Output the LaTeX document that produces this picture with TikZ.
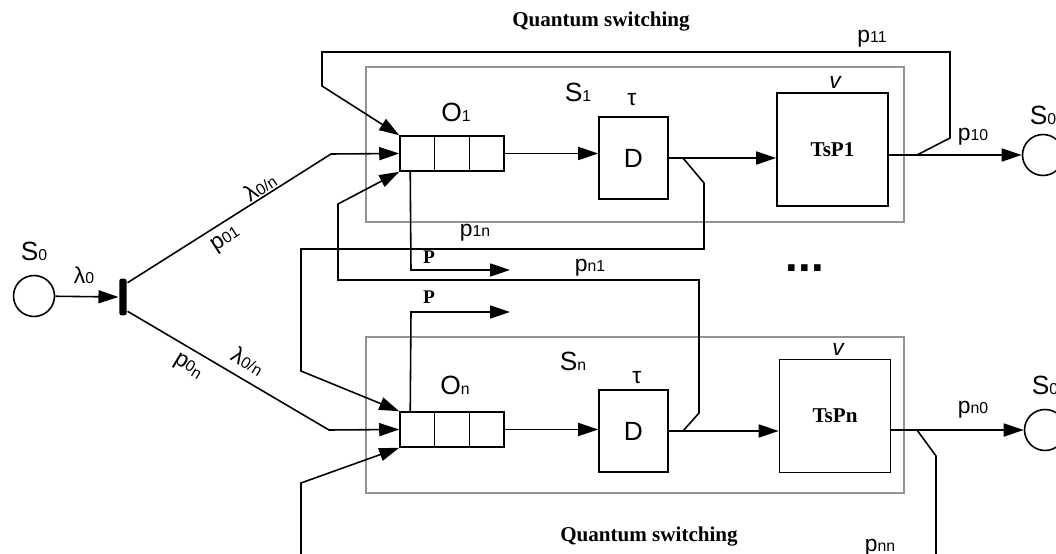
\documentclass[tikz,border=0pt]{standalone}
\usepackage{fontspec}
\setmainfont{Liberation Sans}
\newfontfamily\timesbf{Liberation Serif}
\usetikzlibrary{arrows.meta,calc}

\newcommand{\lo}[1]{{\fontsize{9}{9}\selectfont #1}}

\begin{document}
\begin{tikzpicture}[x=0.02cm,y=-0.02cm,line width=0.9pt,
    arr/.style={-{Triangle[length=4mm,width=2.6mm]}},
    place/.style={draw,circle,minimum size=0.82cm,inner sep=0pt},
    trans/.style={fill,rounded corners=1.5pt,minimum width=0.15cm,minimum height=0.74cm,inner sep=0pt},
    queue/.style={draw,minimum width=2.08cm,minimum height=0.7cm,inner sep=0pt},
    delay/.style={draw,minimum width=1.38cm,minimum height=1.64cm,font=\fontsize{15}{15}\selectfont},
    proc/.style={draw,minimum width=2.22cm,minimum height=2.26cm,font=\timesbf\bfseries\fontsize{12}{12}\selectfont},
    frame/.style={draw=gray!85,line width=0.9pt},
    lbl/.style={font=\fontsize{15}{15}\selectfont,inner sep=0pt},
    plbl/.style={font=\fontsize{13}{13}\selectfont,inner sep=0pt},
    tlbl/.style={font=\timesbf\bfseries\fontsize{12}{12}\selectfont,inner sep=0pt}]

\useasboundingbox (0,0) rectangle (1056,554);

% Switching frames
\draw[frame] (366,67) rectangle (904,222);
\draw[frame] (366,337) rectangle (904,493);

% Source and branching transition
\node[place] (s0) at (34,296) {};
\node[trans] (t0) at (123,297) {};
\draw[arr] (s0) -- (t0.west);

% Queues, delays and processors
\node[queue] (q1) at (452,153.5) {};
\node[queue] (qn) at (452,429.5) {};
\foreach \q in {q1,qn} {
    \foreach \f in {1,2} {
        \draw ($(\q.north west)!\f/3!(\q.north east)$) -- ($(\q.south west)!\f/3!(\q.south east)$);
    }
}
\node[delay] (d1) at (633.5,158) {D};
\node[delay] (dn) at (633.5,431) {D};
\node[proc] (tsp1) at (832.5,149.5) {TsP1};
\node[proc] (tspn) at (835,416) {TsPn};
\node[place] (s01) at (1043,155) {};
\node[place] (s0n) at (1045,430) {};

% Main flow
\coordinate (b1) at (331,154);
\coordinate (bn) at (329,430);
\draw[arr] ([yshift=-0.1cm]t0.north east) -- (b1) -- (q1.west);
\draw[arr] ([yshift=0.1cm]t0.south east) -- (bn) -- (qn.west);
\draw[arr] (q1.east) -- (q1.east -| d1.west);
\draw[arr] (qn.east) -- (qn.east -| dn.west);
\draw[arr] (d1.east) -- (d1.east -| tsp1.west);
\draw[arr] (dn.east) -- (dn.east -| tspn.west);
\draw[arr] (s01 -| tsp1.east) -- (s01.west);
\draw[arr] (s0n -| tspn.east) -- (s0n.west);

% Feedback and cross links
\coordinate (j11) at (917,155);
\coordinate (j1n) at (683,158);
\coordinate (jn1) at (683,431);
\coordinate (jnn) at (917,430);
\draw[arr] (j11) -- (950,138) -- (950,52) -- (322,52) -- (322,86) -- (q1.north west);
\draw[arr] (j1n) -- (704,183) -- (704,249) -- (301,249) -- (301,371) -- (qn.north west);
\draw[arr] (jn1) -- (699,413) -- (699,280) -- (338,280) -- (338,204) -- (q1.south west);
\draw (jnn) -- (936,456) -- (936,560);
\draw[arr] (301,560) -- (301,483) -- (qn.south west);

% Loss outputs
\coordinate (lost1) at (510,270);
\coordinate (lostn) at (510,312);
\draw[arr] ([xshift=0.22cm]q1.south west) -- (411,270) -- (lost1);
\draw[arr] ([xshift=0.22cm]qn.north west) -- (411,312) -- (lostn);

% Labels
\node[tlbl] (ttl1) at (601,22) {Quantum switching};
\node[tlbl] (ttln) at (649,537) {Quantum switching};
\node[lbl] (ls0) at (34,251) {S\lo{0}};
\node[plbl] (llam) at (84,275) {λ\lo{0}};
\node[plbl,rotate=33] (llam1) at (260,187) {λ\lo{0/n}};
\node[plbl,rotate=33] (lp01) at (226,240) {p\lo{01}};
\node[plbl,rotate=-31] (lp0n) at (188,367) {p\lo{0\raisebox{-1.5pt}{n}}};
\node[plbl,rotate=-31] (llamn) at (248,361) {λ\lo{0/n}};
\node[lbl] (lo1) at (456,112) {O\lo{1}};
\node[lbl] (lon) at (455,385) {O\lo{n}};
\node[lbl] (ls1) at (578,92) {S\lo{1}};
\node[lbl] (lsn) at (573,361) {S\lo{n}};
\node[plbl] (ltau1) at (632,100) {τ};
\node[plbl] (ltaun) at (637,378) {τ};
\node[plbl] (lv1) at (835,82) {\itshape v};
\node[plbl] (lvn) at (838,349) {\itshape v};
\node[plbl] (lp11) at (872,39) {p\lo{11}};
\node[plbl] (lp10) at (973,137) {p\lo{10}};
\node[plbl] (lp1n) at (475,233) {p\lo{1n}};
\node[plbl] (lpn1) at (590,268) {p\lo{n1}};
\node[plbl] (lpn0) at (973,410) {p\lo{n0}};
\node[plbl] (lpnn) at (880,548) {p\lo{nn}};
\node[tlbl,font=\timesbf\bfseries\fontsize{11}{11}\selectfont] (lP1) at (429,257) {P};
\node[tlbl,font=\timesbf\bfseries\fontsize{11}{11}\selectfont] (lPn) at (429,297) {P};
\node[lbl,anchor=west] (ls01) at (1029,115) {S\lo{0}};
\node[lbl,anchor=west] (ls0n) at (1031,385) {S\lo{0}};
\node[font=\bfseries\fontsize{26}{26}\selectfont,inner sep=0pt] (dots) at (805,268) {...};

\end{tikzpicture}
\end{document}
